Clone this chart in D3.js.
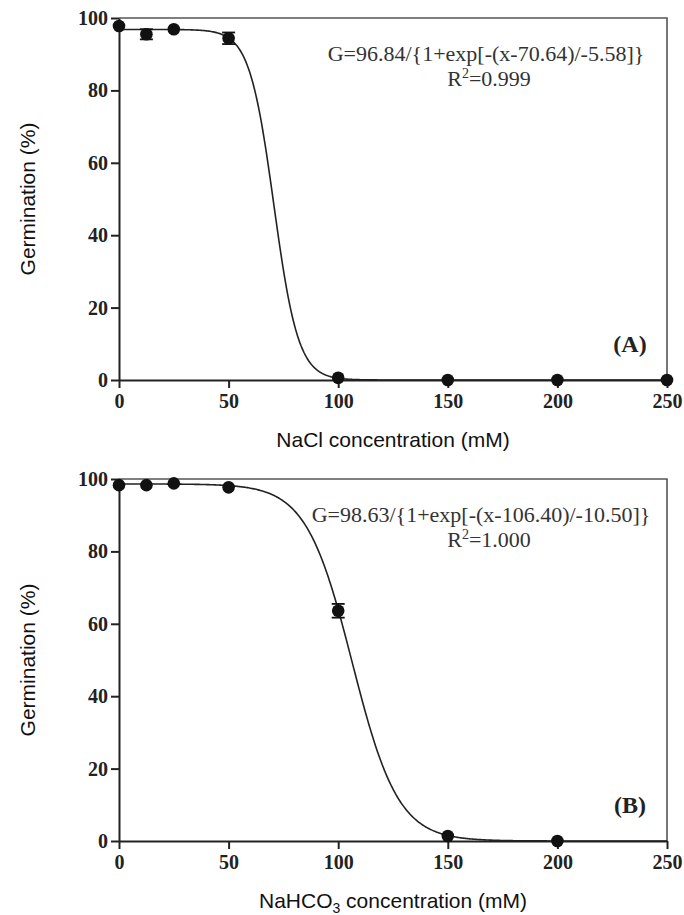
<!DOCTYPE html>
<html>
<head>
<meta charset="utf-8">
<script src="https://cdn.jsdelivr.net/npm/d3@7"></script>
<style>
  html, body { margin: 0; padding: 0; background: #ffffff; }
  svg { display: block; }
</style>
</head>
<body>
<svg id="chart" width="684" height="915"></svg>
<script>
// Germination (%) of seeds across salt concentrations (mM)
const xTicks = [0, 50, 100, 150, 200, 250];
const yTicks = [0, 20, 40, 60, 80, 100];

// Panel A: NaCl
const concNaCl = [0, 12.5, 25, 50, 100, 150, 200, 250];
const germNaCl = [97.8, 95.5, 96.9, 94.4, 0.6, 0, 0, 0];
const errNaCl  = [0, 1.4, 0, 1.6, 0, 0, 0, 0];
// fitted logistic: [G max, x50, slope], R²
const fitNaCl = [96.84, 70.64, -5.58];
const r2NaCl = "0.999";

// Panel B: NaHCO3
const concNaHCO3 = [0, 12.5, 25, 50, 100, 150, 200];
const germNaHCO3 = [98.3, 98.3, 98.8, 97.7, 63.6, 1.4, 0];
const errNaHCO3  = [0, 0, 0, 0, 1.9, 0, 0];
const fitNaHCO3 = [98.63, 106.40, -10.50];
const r2NaHCO3 = "1.000";

const svg = d3.select("#chart");
const serif = "'Liberation Serif', 'Times New Roman', serif";
const sans = "'Liberation Sans', Arial, sans-serif";

const panels = [
  { top: 18, bottom: 380, conc: concNaCl, germ: germNaCl, err: errNaCl, fit: fitNaCl, r2: r2NaCl,
    tag: "(A)", salt: [{ t: "NaCl concentration (mM)" }], eqX: 486 },
  { top: 479, bottom: 841, conc: concNaHCO3, germ: germNaHCO3, err: errNaHCO3, fit: fitNaHCO3, r2: r2NaHCO3,
    tag: "(B)", salt: [{ t: "NaHCO" }, { t: "3", sub: true }, { t: " concentration (mM)" }], eqX: 481 }
];

const left = 119, right = 667;

panels.forEach(p => {
  const x = d3.scaleLinear().domain([0, 250]).range([left, right]);
  const y = d3.scaleLinear().domain([0, 100]).range([p.bottom, p.top]);
  const g = svg.append("g");

  // frame (top and right)
  g.append("path")
    .attr("d", `M${x(0)},${y(100)}H${x(250)}V${y(0)}`)
    .attr("fill", "none").attr("stroke", "#555").attr("stroke-width", 1.6);

  // axes
  const xAxis = d3.axisBottom(x).tickValues(xTicks).tickSize(8).tickSizeOuter(0).tickPadding(5);
  const yAxis = d3.axisLeft(y).tickValues(yTicks).tickSize(8).tickSizeOuter(0).tickPadding(3);
  const gx = g.append("g").attr("transform", `translate(0,${y(0)})`).call(xAxis);
  const gy = g.append("g").attr("transform", `translate(${x(0)},0)`).call(yAxis);
  [gx, gy].forEach(ax => {
    ax.select(".domain").attr("stroke", "#222").attr("stroke-width", 2);
    ax.selectAll(".tick line").attr("stroke", "#222").attr("stroke-width", 2);
    ax.selectAll(".tick text")
      .attr("font-family", serif).attr("font-weight", "bold")
      .attr("font-size", 20).attr("fill", "#222");
  });
  gx.selectAll(".tick text").attr("dy", "0.75em");

  // fitted logistic curve
  const [gmax, x50, k] = p.fit;
  const xs = d3.range(0, 250.01, 0.5);
  const line = d3.line().x(d => x(d)).y(d => y(gmax / (1 + Math.exp(-(d - x50) / k))));
  g.append("path").datum(xs).attr("d", line)
    .attr("fill", "none").attr("stroke", "#222").attr("stroke-width", 1.6);

  // error bars
  const pts = p.conc.map((c, i) => ({ c, v: p.germ[i], e: p.err[i] }));
  const eb = g.append("g").attr("stroke", "#111").attr("stroke-width", 1.8);
  pts.filter(d => d.e > 0).forEach(d => {
    eb.append("line").attr("x1", x(d.c)).attr("x2", x(d.c)).attr("y1", y(d.v - d.e)).attr("y2", y(d.v + d.e));
    [d.v - d.e, d.v + d.e].forEach(v => {
      eb.append("line").attr("x1", x(d.c) - 6.5).attr("x2", x(d.c) + 6.5).attr("y1", y(v)).attr("y2", y(v));
    });
  });

  // markers
  g.selectAll("circle.pt").data(pts).join("circle")
    .attr("class", "pt")
    .attr("cx", d => x(d.c)).attr("cy", d => y(d.v)).attr("r", 6.3)
    .attr("fill", "#111");

  // equation and R²
  const eq = `G=${gmax.toFixed(2)}/{1+exp[-(x-${x50.toFixed(2)})/${k.toFixed(2)}]}`;
  g.append("text").attr("x", p.eqX).attr("y", p.top + 43)
    .attr("text-anchor", "middle").attr("font-family", serif).attr("font-size", 22)
    .attr("fill", "#333").text(eq);
  const r = g.append("text").attr("x", 489).attr("y", p.top + 68)
    .attr("text-anchor", "middle").attr("font-family", serif).attr("font-size", 22).attr("fill", "#333");
  r.append("tspan").text("R");
  r.append("tspan").attr("dy", -8).attr("font-size", 14).text("2");
  r.append("tspan").attr("dy", 8).text("=" + p.r2);

  // panel tag
  g.append("text").attr("x", 630).attr("y", p.bottom - 28)
    .attr("text-anchor", "middle").attr("font-family", serif).attr("font-weight", "bold")
    .attr("font-size", 24).attr("fill", "#222").text(p.tag);

  // axis titles
  const xt = g.append("text").attr("x", (left + right) / 2).attr("y", p.bottom + 67)
    .attr("text-anchor", "middle").attr("font-family", sans).attr("font-size", 21).attr("fill", "#111");
  p.salt.forEach(s => {
    const ts = xt.append("tspan").text(s.t);
    if (s.sub) ts.attr("font-size", 14).attr("dy", 5);
    else if (xt.selectAll("tspan").size() > 1) ts.attr("dy", -5);
  });
  g.append("text")
    .attr("transform", `translate(35,${(p.top + p.bottom) / 2}) rotate(-90)`)
    .attr("text-anchor", "middle").attr("font-family", sans).attr("font-size", 21).attr("fill", "#111")
    .text("Germination (%)");
});
</script>
</body>
</html>
